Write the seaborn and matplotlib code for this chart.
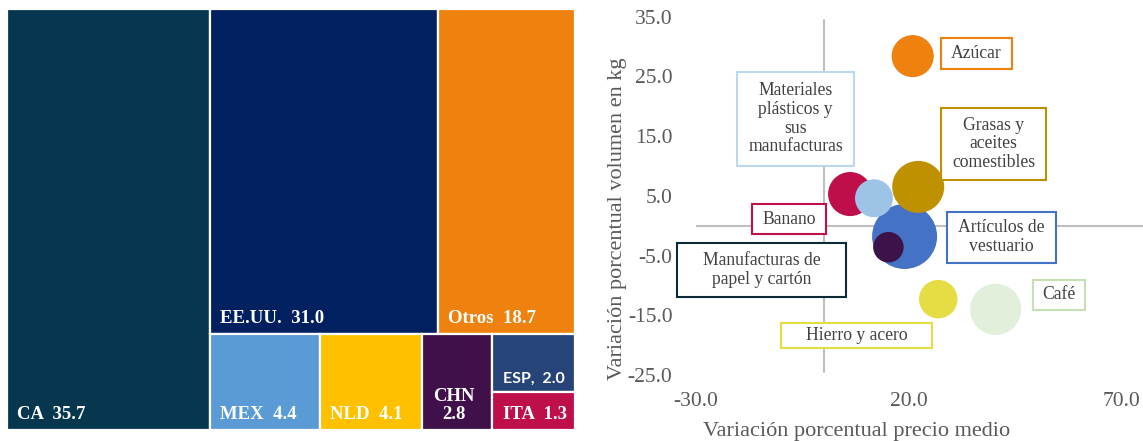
import numpy as np
import pandas as pd
import matplotlib
matplotlib.use("Agg")
import matplotlib.pyplot as plt
from matplotlib.patches import Rectangle
from matplotlib.transforms import IdentityTransform
import seaborn as sns

# ---------------- data ----------------
paises = ["CA", "EE.UU.", "Otros", "MEX", "NLD", "CHN", "ESP", "ITA"]
participacion = [35.7, 31.0, 18.7, 4.4, 4.1, 2.8, 2.0, 1.3]
separadores = ["  ", "  ", "  ", "  ", "  ", "\n", ",  ", "  "]
colores_paises = ["#07374F", "#002060", "#EF820F", "#5B9BD5",
                  "#FFC000", "#3F1049", "#264478", "#BE0F4A"]

productos = ["Artículos de vestuario", "Banano",
             "Materiales plásticos y sus manufacturas",
             "Grasas y aceites comestibles",
             "Manufacturas de papel y cartón", "Azúcar",
             "Hierro y acero", "Café"]
var_precio = [19.0, 6.2, 11.8, 22.2, 15.2, 20.9, 26.9, 40.4]
var_volumen = [-1.8, 5.3, 4.6, 6.5, -3.6, 28.4, -12.3, -14.0]
valor = [100, 46, 34, 64, 22, 42, 35, 62]
colores_productos = ["#4472C4", "#BE0F4A", "#9DC3E6", "#BF9000",
                     "#3D1249", "#EF820F", "#E4DE44", "#E2EFDA"]
textos = ["Artículos de\nvestuario", "Banano",
          "Materiales\nplásticos y\nsus\nmanufacturas",
          "Grasas y\naceites\ncomestibles",
          "Manufacturas de\npapel y cartón", "Azúcar",
          "Hierro y acero", "Café"]
bordes = ["#4472C4", "#BE0F4A", "#BDD7EE", "#BF9000",
          "#0D2B36", "#EF820F", "#E4DE44", "#C5E0B4"]

# label positions (data coords) and box sizes (px)
lab_x = [41.7, -8.2, -6.6, 39.9, -14.5, 35.9, 7.7, 55.3]
lab_y = [-1.9, 1.1, 17.9, 13.7, -7.4, 28.8, -18.4, -11.6]
box_w = [108.6, 74, 116.4, 104.7, 169, 71, 151.5, 51.6]
box_h = [51, 30, 94, 72.7, 54.6, 31, 24.4, 29.3]

x_ticks = [-30, 20, 70]
y_ticks = [-25, -15, -5, 5, 15, 25, 35]

# ---------------- style ----------------
sns.set_theme(style="white")
plt.rcParams["font.family"] = ["Liberation Serif", "DejaVu Serif"]

W, H = 1143, 441
fig = plt.figure(figsize=(W / 100, H / 100), dpi=100)
fig.patch.set_facecolor("white")


def frac(x0, y0, x1, y1):
    return [x0 / W, 1 - y1 / H, (x1 - x0) / W, (y1 - y0) / H]


# ---------------- treemap ----------------
axt = fig.add_axes(frac(6.9, 9, 575, 430))
vals = dict(zip(paises, participacion))
estructura = ("h", ["CA", ("v", [("h", ["EE.UU.", "Otros"]),
                                 ("h", ["MEX", "NLD", "CHN",
                                        ("v", ["ESP", "ITA"])])])])


def total(node):
    if isinstance(node, str):
        return vals[node]
    return sum(total(c) for c in node[1])


rects = {}


def layout(node, x, y, w, h):
    if isinstance(node, str):
        rects[node] = (x, y, w, h)
        return
    orient, children = node
    t = total(node)
    pos = 0.0
    for c in children:
        f = total(c) / t
        if orient == "h":
            layout(c, x + pos * w, y, w * f, h)
        else:
            layout(c, x, y + pos * h, w, h * f)
        pos += f


layout(estructura, 0, 0, 1, 1)
for i, p in enumerate(paises):
    x, y, w, h = rects[p]
    axt.add_patch(Rectangle((x, y), w, h, facecolor=colores_paises[i],
                            edgecolor="white", linewidth=1.6))
    label = f"{p}{separadores[i]}{participacion[i]:.1f}"
    if p == "ESP":
        fam, fs = ["Lato", "DejaVu Sans"], 11.5
    else:
        fam, fs = ["Liberation Serif", "DejaVu Serif"], 13.5
    axt.annotate(label, xy=(x, y + h), xytext=(7.5, 5), textcoords="offset points",
                 ha="left", va="bottom", multialignment="center",
                 color="white", fontweight="bold", fontsize=fs, family=fam,
                 linespacing=1.05)
axt.set_xlim(0, 1)
axt.set_ylim(1, 0)
axt.axis("off")

# ---------------- bubble chart ----------------
ax = fig.add_axes(frac(696, 16.7, 1143, 375))
df = pd.DataFrame({"precio": var_precio, "volumen": var_volumen,
                   "valor": valor, "producto": productos})
smax = (65 * 0.72) ** 2
sns.scatterplot(data=df, x="precio", y="volumen", size="valor",
                sizes=(0, smax), size_norm=(0, 100), hue="producto",
                palette=dict(zip(productos, colores_productos)),
                linewidth=0, alpha=1, legend=False, ax=ax, zorder=3)
ax.set_xlim(-30, 75.0)
ax.set_ylim(-25, 35)
for s in ax.spines.values():
    s.set_visible(False)
ax.axhline(0, color="#BFBFBF", lw=1.5, zorder=1)
ax.axvline(0, ymax=0.992, ymin=0.008, color="#BFBFBF", lw=1.5, zorder=1)
ax.set_xticks(x_ticks)
ax.set_xticklabels([f"{v:.1f}" for v in x_ticks])
ax.set_yticks(y_ticks)
ax.set_yticklabels([f"{v:.1f}" for v in y_ticks])
ax.tick_params(axis="both", length=0, labelsize=15.5, colors="#595959")
ax.tick_params(axis="y", pad=17)
ax.tick_params(axis="x", pad=12.5)
ax.set_xlabel("Variación porcentual precio medio", fontsize=16, color="#595959")
ax.set_ylabel("Variación porcentual volumen en kg", fontsize=16, color="#595959")
ax.xaxis.set_label_coords(0.360, -0.157)
ax.xaxis.label.set_verticalalignment("center")
ax.yaxis.set_label_coords(-0.176, 0.435)
ax.yaxis.label.set_verticalalignment("center")
ax.set_facecolor("white")

fig.canvas.draw()
for i in range(len(productos)):
    cx, cy = ax.transData.transform((lab_x[i], lab_y[i]))
    r = Rectangle((cx - box_w[i] / 2, cy - box_h[i] / 2), box_w[i], box_h[i],
                  transform=IdentityTransform(), facecolor="white",
                  edgecolor=bordes[i], linewidth=1.5, zorder=4)
    fig.add_artist(r)
    fig.text(cx / W, cy / H, textos[i], ha="center", va="center",
             multialignment="center", fontsize=12.7, color="#404040",
             linespacing=1.12, zorder=5)

fig.savefig("out.png", dpi=100, facecolor="white")
